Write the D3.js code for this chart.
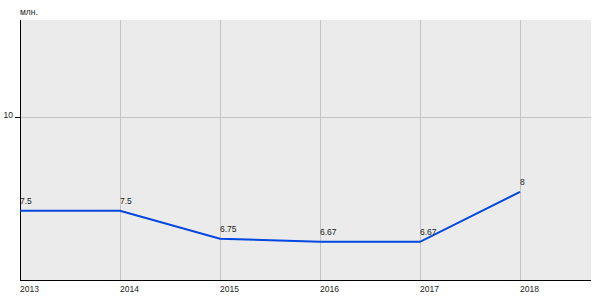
<!DOCTYPE html>
<html>
<head>
<meta charset="utf-8">
<script src="https://cdn.jsdelivr.net/npm/d3@7"></script>
<style>
  body { margin: 0; background: #fff; }
  text { font-family: "Liberation Sans", Arial, sans-serif; }
</style>
</head>
<body>
<script>
var years = [2013, 2014, 2015, 2016, 2017, 2018];
var values = [7.5, 7.5, 6.75, 6.67, 6.67, 8];
var valueLabels = ["7.5", "7.5", "6.75", "6.67", "6.67", "8"];
var yTicks = [10];
var unitLabel = "млн.";

var width = 600, height = 300;
var plotL = 20, plotT = 20, plotR = 591, plotB = 280;

var svg = d3.select("body")
    .append("svg")
    .attr("width", width)
    .attr("height", height);

var x = d3.scaleLinear()
    .domain([2013, 2018.71])
    .range([plotL, plotR]);

var y = d3.scaleLinear()
    .domain([5.65, 12.59])
    .range([plotB, plotT]);

svg.append("rect")
    .attr("x", plotL)
    .attr("y", plotT)
    .attr("width", plotR - plotL)
    .attr("height", plotB - plotT)
    .attr("fill", "#ebebeb");

// vertical grid
svg.selectAll(".vgrid")
    .data(years.slice(1))
    .enter()
    .append("line")
    .attr("x1", function(d){ return Math.round(x(d)) + 0.5; })
    .attr("x2", function(d){ return Math.round(x(d)) + 0.5; })
    .attr("y1", plotT)
    .attr("y2", plotB)
    .attr("stroke", "#c4c4c4")
    .attr("stroke-width", 1);

// horizontal grid
svg.selectAll(".hgrid")
    .data(yTicks)
    .enter()
    .append("line")
    .attr("x1", plotL)
    .attr("x2", plotR)
    .attr("y1", function(d){ return Math.round(y(d)) + 0.5; })
    .attr("y2", function(d){ return Math.round(y(d)) + 0.5; })
    .attr("stroke", "#c4c4c4");

svg.selectAll(".htick")
    .data(yTicks)
    .enter()
    .append("line")
    .attr("x1", plotL - 5)
    .attr("x2", plotL)
    .attr("y1", function(d){ return Math.round(y(d)) + 0.5; })
    .attr("y2", function(d){ return Math.round(y(d)) + 0.5; })
    .attr("stroke", "#000");

svg.selectAll(".ylab")
    .data(yTicks)
    .enter()
    .append("text")
    .attr("x", plotL - 7)
    .attr("y", function(d){ return y(d) + 0.5; })
    .attr("text-anchor", "end")
    .attr("font-size", "8.5px")
    .attr("fill", "#222")
    .text(function(d){ return d; });

// axes
svg.append("line")
    .attr("x1", plotL + 0.5).attr("x2", plotL + 0.5)
    .attr("y1", plotT).attr("y2", plotB)
    .attr("stroke", "#000");
svg.append("line")
    .attr("x1", plotL).attr("x2", plotR)
    .attr("y1", plotB + 0.5).attr("y2", plotB + 0.5)
    .attr("stroke", "#000");

svg.selectAll(".xlab")
    .data(years)
    .enter()
    .append("text")
    .attr("x", function(d){ return x(d); })
    .attr("y", plotB + 12)
    .attr("font-size", "8.5px")
    .attr("fill", "#222")
    .text(function(d){ return d; });

svg.append("text")
    .attr("x", plotL)
    .attr("y", 15)
    .attr("font-size", "8.5px")
    .attr("fill", "#222")
    .text(unitLabel);

var line = d3.line()
    .x(function(d, i){ return x(years[i]); })
    .y(function(d){ return y(d); });

svg.append("path")
    .datum(values)
    .attr("d", line)
    .attr("fill", "none")
    .attr("stroke", "#0047e0")
    .attr("stroke-width", 2);

svg.selectAll(".vlab")
    .data(values)
    .enter()
    .append("text")
    .attr("x", function(d, i){ return x(years[i]); })
    .attr("y", function(d){ return y(d) - 7; })
    .attr("font-size", "8.5px")
    .attr("fill", "#222")
    .text(function(d, i){ return valueLabels[i]; });
</script>
</body>
</html>
